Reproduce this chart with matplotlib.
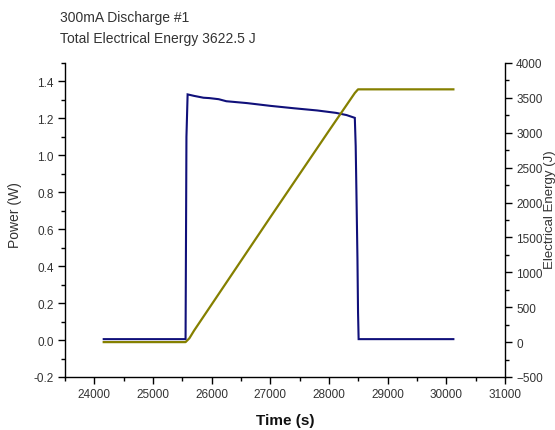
import matplotlib
matplotlib.use('Agg')
import matplotlib.pyplot as plt
from matplotlib.ticker import MultipleLocator

plt.rcParams['font.family'] = ['Liberation Sans', 'DejaVu Sans']

NAVY = '#10107a'
OLIVE = '#858000'
TEXT = '#333333'

# power trace (s, W)
time_p = [24160, 25555, 25570, 25590, 25700, 25860, 25960, 26120, 26250,
          26600, 27000, 27400, 27800, 28120, 28300, 28440, 28455, 28470,
          28485, 28495, 28505, 30120]
power = [0.005, 0.005, 1.10, 1.330, 1.322, 1.312, 1.310, 1.304, 1.293,
         1.283, 1.268, 1.255, 1.243, 1.230, 1.218, 1.203, 1.05, 0.75,
         0.44, 0.15, 0.005, 0.005]

# cumulative energy (s, J)
time_e = [24160, 25555, 25620, 25700, 26040, 27000, 28000, 28440, 28495, 30120]
energy = [0, 0, 55, 165, 590, 1790, 3030, 3570, 3622.5, 3622.5]

total_energy = 3622.5

fig = plt.figure(figsize=(5.55, 4.31), dpi=100)
ax = fig.add_axes([65 / 555, 1 - 378 / 431, 440 / 555, 314 / 431])
ax2 = ax.twinx()

ax.plot(time_p, power, color=NAVY, lw=1.5, solid_joinstyle='miter')
ax2.plot(time_e, energy, color=OLIVE, lw=1.6)

ax.set_xlim(23500, 31000)
ax.set_ylim(-0.2, 1.5)
ax2.set_ylim(-500, 4000)

ax.xaxis.set_major_locator(MultipleLocator(1000))
ax.xaxis.set_minor_locator(MultipleLocator(500))
ax.yaxis.set_major_locator(MultipleLocator(0.2))
ax.yaxis.set_minor_locator(MultipleLocator(0.1))
ax2.yaxis.set_major_locator(MultipleLocator(500))
ax2.yaxis.set_minor_locator(MultipleLocator(250))
ax.yaxis.set_major_formatter(plt.FuncFormatter(lambda v, p: f'{v:.1f}'))

for a in (ax, ax2):
    a.spines['top'].set_visible(False)
    for s in a.spines.values():
        s.set_linewidth(1.0)
    a.tick_params(which='major', direction='out', length=5, width=1,
                  labelsize=8.5, labelcolor=TEXT, pad=3)
    a.tick_params(which='minor', direction='out', length=3, width=1)
ax.spines['right'].set_visible(False)
ax2.spines['left'].set_visible(False)
ax2.spines['bottom'].set_visible(False)

ax.set_xlabel('Time (s)', fontsize=11, fontweight='bold', color='#111111')
ax.xaxis.set_label_coords(0.5, -0.115)
ax.set_ylabel('Power (W)', fontsize=10, color=TEXT)
ax.yaxis.set_label_coords(-0.098, 0.52)
ax2.set_ylabel('Electrical Energy (J)', fontsize=9.5, color=TEXT, rotation=90)
ax2.yaxis.set_label_coords(1.088, 0.535)

fig.text(60 / 555, 1 - 18 / 431, '300mA Discharge #1', fontsize=10,
         color=TEXT, va='center', ha='left')
fig.text(60 / 555, 1 - 39 / 431, f'Total Electrical Energy {total_energy} J',
         fontsize=10, color=TEXT, va='center', ha='left')

fig.savefig('out.png', dpi=100)
